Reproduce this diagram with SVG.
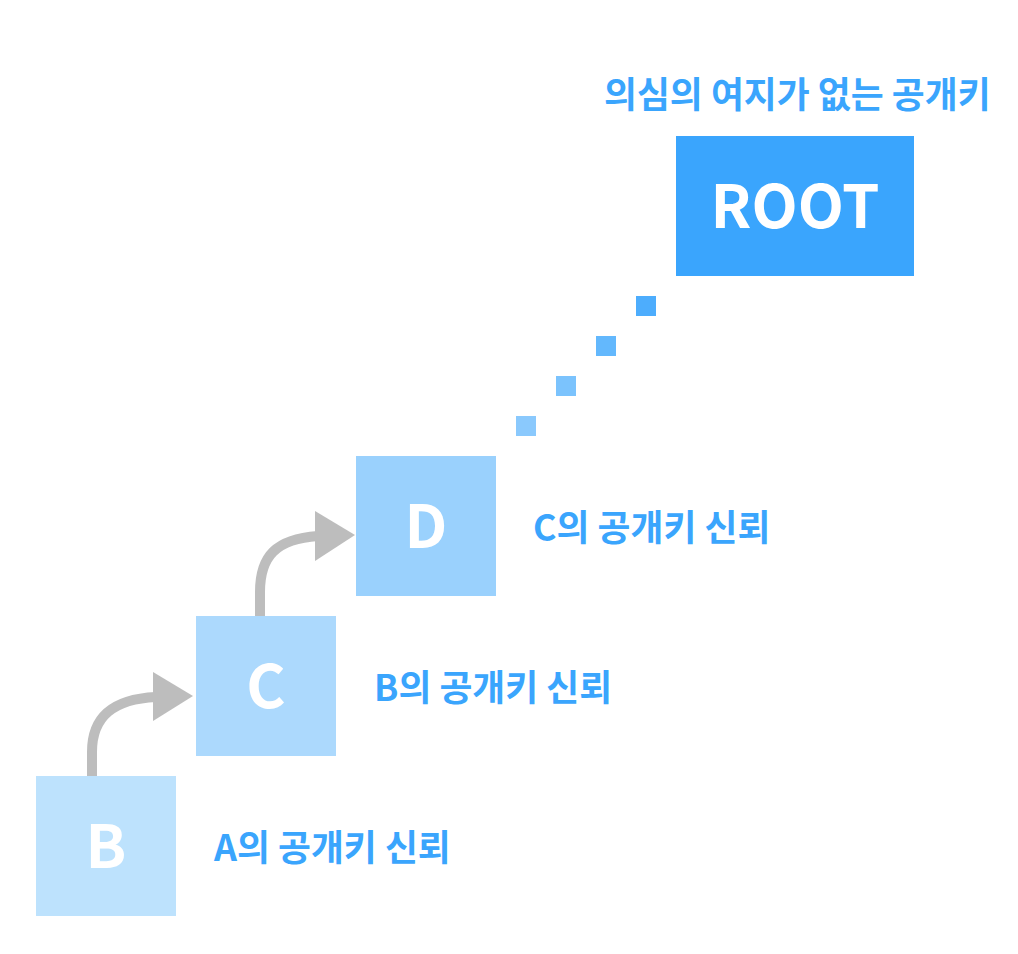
<svg xmlns="http://www.w3.org/2000/svg" width="1018" height="954" viewBox="0 0 1018 954">
<style>
.lbl{font-family:"Noto Sans CJK KR","Noto Sans",sans-serif;font-weight:700;font-size:35.8px;fill:#3aa5fd}
.big{font-family:"Noto Sans CJK KR","Noto Sans",sans-serif;font-weight:700;fill:#ffffff;text-anchor:middle}
.conn{fill:none;stroke:#bdbdbd;stroke-width:10}
.head{fill:#bdbdbd}
</style>
<rect width="1018" height="954" fill="#ffffff"/>
<g id="connectors">
<path class="conn" d="M92,776 V752 C92,716 114,699 156,697"/>
<polygon class="head" points="153,672 193,696 153,721"/>
<path class="conn" d="M260,616 V592 C260,556 276,539 318,536"/>
<polygon class="head" points="315,511 355,535 315,561"/>
<rect x="516" y="416" width="20" height="20" fill="#8ac9fd"/>
<rect x="556" y="376" width="20" height="20" fill="#7bc3fd"/>
<rect x="596" y="336" width="20" height="20" fill="#63b8fd"/>
<rect x="636" y="296" width="20" height="20" fill="#4dadfd"/>
</g>
<g id="node-root">
<text class="lbl" x="604" y="108" font-size="37">의심의 여지가 없는 공개키</text>
<rect x="676" y="136" width="238" height="140" fill="#3aa5fd"/>
<text class="big" x="795" y="228" font-size="60">ROOT</text>
</g>
<g id="node-d">
<rect x="356" y="456" width="140" height="140" fill="#9ad1fd"/>
<text class="big" x="426" y="548" font-size="60">D</text>
<text class="lbl" x="533" y="541">C의 공개키 신뢰</text>
</g>
<g id="node-c">
<rect x="196" y="616" width="140" height="140" fill="#acd9fd"/>
<text class="big" x="266" y="708" font-size="60">C</text>
<text class="lbl" x="374" y="701">B의 공개키 신뢰</text>
</g>
<g id="node-b">
<rect x="36" y="776" width="140" height="140" fill="#bde2fd"/>
<text class="big" x="106" y="868" font-size="60">B</text>
<text class="lbl" x="214" y="861">A의 공개키 신뢰</text>
</g>
</svg>
